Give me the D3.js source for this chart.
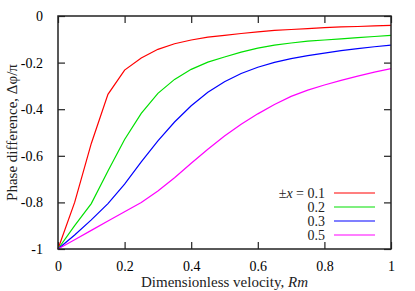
<!DOCTYPE html>
<html><head><meta charset="utf-8">
<script src="https://cdn.jsdelivr.net/npm/d3@7"></script>
<style>
body{margin:0;background:#fff;}
</style></head>
<body><svg id="c" width="415" height="291"></svg>
<script>
const rm = [0,0.05,0.1,0.15,0.2,0.25,0.3,0.35,0.4,0.45,0.5,0.55,0.6,0.65,0.7,0.75,0.8,0.85,0.9,0.95,1];
const s01 = [-1,-0.80,-0.547,-0.336,-0.232,-0.180,-0.143,-0.119,-0.103,-0.091,-0.083,-0.075,-0.068,-0.062,-0.058,-0.054,-0.050,-0.047,-0.045,-0.042,-0.040];
const s02 = [-1,-0.90,-0.805,-0.665,-0.53,-0.418,-0.332,-0.272,-0.229,-0.198,-0.176,-0.155,-0.138,-0.125,-0.116,-0.108,-0.103,-0.098,-0.093,-0.088,-0.083];
const s03 = [-1,-0.94,-0.875,-0.805,-0.722,-0.626,-0.536,-0.455,-0.385,-0.327,-0.282,-0.247,-0.220,-0.199,-0.183,-0.170,-0.159,-0.149,-0.140,-0.132,-0.125];
const s05 = [-1,-0.96,-0.92,-0.88,-0.84,-0.80,-0.751,-0.694,-0.632,-0.572,-0.515,-0.465,-0.420,-0.380,-0.345,-0.318,-0.296,-0.276,-0.258,-0.241,-0.226];
const seriesLabels = ["0.1","0.2","0.3","0.5"];
const seriesColors = ["#ff0000","#00e000","#0000ff","#ff00ff"];
const xTicks = [0,0.2,0.4,0.6,0.8,1];
const yTicks = [0,-0.2,-0.4,-0.6,-0.8,-1];

const L=58, R=391, T=16, B=249;
const svg = d3.select("#c");
const x = d3.scaleLinear().domain([0,1]).range([L,R]);
const y = d3.scaleLinear().domain([-1,0]).range([B,T]);
const fmt = d => String(d);
const tl=7;

const gx = svg.append("g").attr("transform","translate(0,"+B+")")
  .call(d3.axisBottom(x).tickValues(xTicks).tickSize(-tl).tickPadding(12).tickFormat(fmt));
gx.select(".domain").remove();
gx.attr("font-family","Liberation Serif").attr("font-size",14);
const gt = svg.append("g").attr("transform","translate(0,"+T+")")
  .call(d3.axisTop(x).tickValues(xTicks).tickSize(-tl).tickFormat(""));
gt.select(".domain").remove();
const gy = svg.append("g").attr("transform","translate("+L+",0)")
  .call(d3.axisLeft(y).tickValues(yTicks).tickSize(-tl).tickPadding(15).tickFormat(fmt));
gy.select(".domain").remove();
gy.attr("font-family","Liberation Serif").attr("font-size",14);
const gr = svg.append("g").attr("transform","translate("+R+",0)")
  .call(d3.axisRight(y).tickValues(yTicks).tickSize(-tl).tickFormat(""));
gr.select(".domain").remove();
svg.selectAll(".tick line").attr("stroke","#222").attr("stroke-width",1.2);

const series=[s01,s02,s03,s05];
const line = d3.line().x((d,i)=>x(rm[i])).y(d=>y(d));
series.forEach((s,k)=>{
  svg.append("path").datum(s).attr("d",line).attr("fill","none")
    .attr("stroke",seriesColors[k]).attr("stroke-width",1.2);
});

svg.append("rect").attr("x",L).attr("y",T).attr("width",R-L).attr("height",B-T)
  .attr("fill","none").attr("stroke","#222").attr("stroke-width",1.5);

const ly0=193, ldy=14;
seriesLabels.forEach((lab,k)=>{
  const yy=ly0+k*ldy;
  const t=svg.append("text").attr("x",325).attr("y",yy+5).attr("text-anchor","end")
    .attr("font-size",14).attr("font-family","Liberation Serif").attr("fill","#222");
  if(k===0){
    t.append("tspan").text("\u00b1");
    t.append("tspan").attr("font-style","italic").text("x");
    t.append("tspan").text(" = "+lab);
  } else t.text(lab);
  svg.append("line").attr("x1",334).attr("x2",375).attr("y1",yy).attr("y2",yy)
    .attr("stroke",seriesColors[k]).attr("stroke-width",1.2);
});

const xt=svg.append("text").attr("x",(L+R)/2).attr("y",287).attr("text-anchor","middle")
  .attr("font-size",15).attr("font-family","Liberation Serif").attr("fill","#222");
xt.append("tspan").text("Dimensionless velocity, ");
xt.append("tspan").attr("font-style","italic").text("Rm");
svg.append("text").attr("transform","translate(17,"+((T+B)/2)+") rotate(-90)")
  .attr("text-anchor","middle").attr("font-size",15).attr("font-family","Liberation Serif").attr("fill","#222")
  .text("Phase difference, \u0394\u03c6/\u03c0");
</script></body></html>
